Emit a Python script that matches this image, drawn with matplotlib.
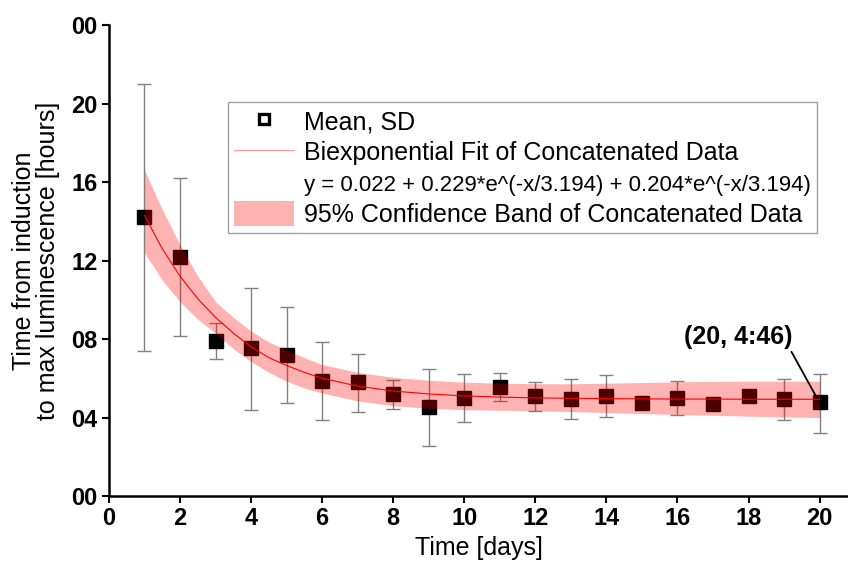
import numpy as np
import matplotlib
matplotlib.use("Agg")
import matplotlib.pyplot as plt
from matplotlib.lines import Line2D
from matplotlib.patches import Patch

plt.rcParams['font.family'] = ['Liberation Sans', 'DejaVu Sans']

# Mittelwerte und Fehlerbalken (Stunden) pro Tag
days = np.arange(1, 21)
mean_h = [14.23, 12.16, 7.92, 7.52, 7.18, 5.88, 5.79, 5.18, 4.53, 4.98,
          5.57, 5.08, 4.94, 5.10, 4.72, 5.01, 4.67, 5.08, 4.93, 4.77]
sd_top = [21.0, 16.2, 8.83, 10.58, 9.65, 7.86, 7.25, 5.91, 6.48, 6.20,
          6.28, 5.81, 5.98, 6.15, 4.72, 5.86, 4.67, 5.08, 5.95, 6.22]
sd_bottom = [7.37, 8.15, 6.97, 4.38, 4.72, 3.87, 4.28, 4.43, 2.55, 3.77,
             4.84, 4.33, 3.91, 4.03, 4.72, 4.13, 4.67, 5.08, 3.87, 3.19]

# Fit-Kurve und Konfidenzband
fit_x = [1, 1.5, 2, 2.5, 3, 3.5, 4, 4.5, 5, 5.5, 6, 7, 8, 9, 10,
         11, 12, 13, 14, 15, 16, 17, 18, 19, 20]
fit_y = [14.3, 12.6, 11.2, 10.05, 9.1, 8.3, 7.6, 7.05, 6.65, 6.3, 6.0, 5.6, 5.35, 5.2, 5.1,
         5.04, 5.0, 4.98, 4.96, 4.95, 4.94, 4.94, 4.93, 4.93, 4.93]
band_top = [16.6, 14.6, 12.8, 11.2, 9.9, 9.1, 8.4, 7.85, 7.45, 7.05, 6.7, 6.3, 6.05, 5.9, 5.8,
            5.75, 5.72, 5.72, 5.75, 5.78, 5.82, 5.84, 5.85, 5.85, 5.85]
band_bottom = [12.4, 11.0, 9.9, 9.0, 8.3, 7.5, 6.85, 6.3, 5.85, 5.5, 5.25, 4.85, 4.6, 4.47, 4.4,
               4.37, 4.35, 4.3, 4.25, 4.2, 4.15, 4.11, 4.07, 4.03, 4.0]

y_ticks = [0, 4, 8, 12, 16, 20, 24]
y_tick_labels = ["00", "04", "08", "12", "16", "20", "00"]
x_ticks = list(range(0, 21, 2))

fig = plt.figure(figsize=(8.48, 5.69), dpi=100)
ax = fig.add_axes([0.1285, 0.1283, 0.8715, 0.8277])

mean_arr = np.array(mean_h)
yerr = [mean_arr - np.array(sd_bottom), np.array(sd_top) - mean_arr]
ax.errorbar(days, mean_h, yerr=yerr, fmt='none', ecolor='#808080', elinewidth=1,
            capsize=5, capthick=1, zorder=2)
ax.plot(days, mean_h, 's', color='black', markersize=10, zorder=2)
ax.fill_between(fit_x, band_bottom, band_top, color='red', alpha=0.3, linewidth=0, zorder=3)
ax.plot(fit_x, fit_y, color='red', linewidth=0.8, zorder=4)

ax.set_xlim(0, 20.8)
ax.set_ylim(0, 24)
ax.set_xticks(x_ticks)
ax.set_yticks(y_ticks)
ax.set_yticklabels(y_tick_labels)
ax.tick_params(labelsize=17, width=1.5, length=5, direction='out', pad=3)
for lab in ax.get_xticklabels() + ax.get_yticklabels():
    lab.set_fontweight('bold')
for side in ['top', 'right']:
    ax.spines[side].set_visible(False)
for side in ['left', 'bottom']:
    ax.spines[side].set_linewidth(1.8)

ax.set_xlabel('Time [days]', fontsize=18, labelpad=4)
ax.set_ylabel('Time from induction\nto max luminescence [hours]', fontsize=18, labelpad=8,
              linespacing=1.0)

ax.annotate('(20, 4:46)', xy=(19.97, 4.85), xytext=(17.7, 8.1), fontsize=18,
            fontweight='bold', ha='center', va='center',
            arrowprops=dict(arrowstyle='-', color='black', lw=1.3, shrinkA=0, shrinkB=0,
                            relpos=(0.98, 0.0)))

handles = [
    Line2D([], [], marker='s', linestyle='none', markersize=7,
           markerfacecolor='white', markeredgecolor='black', markeredgewidth=2.4),
    Line2D([], [], color='#ff9999', linewidth=0.8),
    Line2D([], [], color='none'),
    Patch(facecolor='red', alpha=0.3, linewidth=0),
]
labels = ['Mean, SD', 'Biexponential Fit of Concatenated Data',
          'y = 0.022 + 0.229*e^(-x/3.194) + 0.204*e^(-x/3.194)',
          '95% Confidence Band of Concatenated Data']
leg = ax.legend(handles, labels, loc='upper left', bbox_to_anchor=(0.161, 0.836),
                fontsize=18, frameon=True, fancybox=False, edgecolor='#888888',
                handlelength=2.4, handleheight=1.15, labelspacing=0.2,
                borderpad=0.25, handletextpad=0.4, borderaxespad=0)
leg.get_frame().set_linewidth(1.0)
leg.get_texts()[2].set_fontsize(16)

fig.savefig('out.png', dpi=100)
